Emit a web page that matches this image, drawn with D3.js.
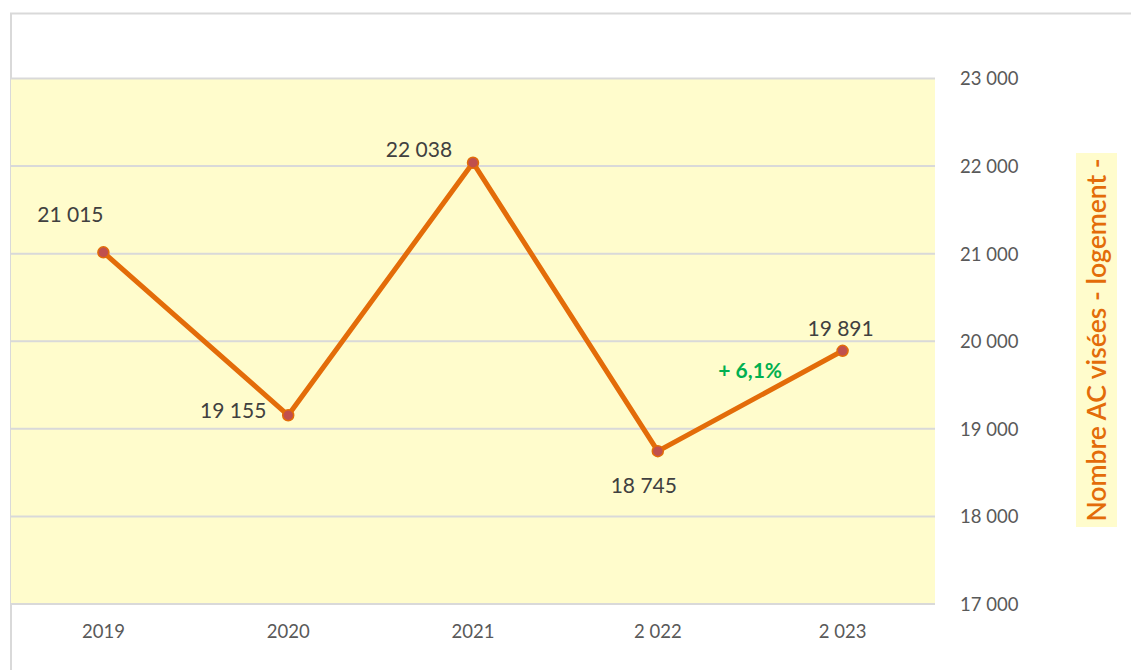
<!DOCTYPE html>
<html><head><meta charset="utf-8">
<script src="https://cdn.jsdelivr.net/npm/d3@7"></script>
<style>html,body{margin:0;padding:0;background:#fff;}svg{display:block;}</style>
</head><body>
<script>
const categories = ["2019", "2020", "2021", "2 022", "2 023"];
const values = [21015, 19155, 22038, 18745, 19891];
const valueLabels = ["21 015", "19 155", "22 038", "18 745", "19 891"];
const yTicks = [17000, 18000, 19000, 20000, 21000, 22000, 23000];
const yTickLabels = ["17 000", "18 000", "19 000", "20 000", "21 000", "22 000", "23 000"];
const axisTitle = "Nombre AC visées - logement -";
const growthLabel = "+ 6,1%";

const W = 1131, H = 670;
const font = "Lato, 'Open Sans', sans-serif";
const svg = d3.select("body").append("svg").attr("width", W).attr("height", H);

// outer frame
svg.append("rect").attr("x", 11).attr("y", 13.5).attr("width", W + 10).attr("height", H + 10)
  .attr("fill", "#fff").attr("stroke", "#d9d9d9").attr("stroke-width", 2);

const plot = {left: 11, right: 935, top: 78.5, bottom: 604};
const x = d3.scaleBand().domain(categories).range([plot.left, plot.right]);
const y = d3.scaleLinear().domain([17000, 23000]).range([plot.bottom, plot.top]);
const cx = d => x(d) + x.bandwidth() / 2;

svg.append("rect").attr("x", plot.left).attr("y", plot.top)
  .attr("width", plot.right - plot.left).attr("height", plot.bottom - plot.top).attr("fill", "#fffccc");

// gridlines
svg.append("g").selectAll("line").data(yTicks).join("line")
  .attr("x1", plot.left).attr("x2", plot.right)
  .attr("y1", d => y(d)).attr("y2", d => y(d))
  .attr("stroke", "#d9d9d9").attr("stroke-width", 2);

// right axis labels
const yAxis = d3.axisRight(y).tickValues(yTicks).tickSize(0).tickPadding(0)
  .tickFormat((d, i) => yTickLabels[i]);
const ga = svg.append("g").attr("transform", `translate(960,0)`).call(yAxis);
ga.select(".domain").remove();
ga.selectAll("text").attr("font-family", font).attr("font-size", 18.5).attr("fill", "#595959").attr("dy", "0.35em");

// x axis labels
const xAxis = d3.axisBottom(x).tickSize(0).tickPadding(0);
const gx = svg.append("g").attr("transform", `translate(0,${plot.bottom + 28})`).call(xAxis);
gx.select(".domain").remove();
gx.selectAll("text").attr("font-family", font).attr("font-size", 18.5).attr("fill", "#595959").attr("dy", "0.35em");

// line
const line = d3.line().x((d, i) => cx(categories[i])).y(d => y(d));
svg.append("path").datum(values).attr("d", line).attr("fill", "none")
  .attr("stroke", "#e36c09").attr("stroke-width", 5).attr("stroke-linejoin", "miter");

svg.append("g").selectAll("circle").data(values).join("circle")
  .attr("cx", (d, i) => cx(categories[i])).attr("cy", d => y(d)).attr("r", 5.5)
  .attr("fill", "#c0504d").attr("stroke", "#e36c09").attr("stroke-width", 1.5);

// value labels (offsets relative to points)
const offs = [[-33, -38], [-55, -5], [-54, -13], [-14, 34], [-2, -22]];
svg.append("g").selectAll("text").data(values).join("text")
  .attr("x", (d, i) => cx(categories[i]) + offs[i][0])
  .attr("y", (d, i) => y(d) + offs[i][1])
  .attr("text-anchor", "middle").attr("dy", "0.35em")
  .attr("font-family", font).attr("font-size", 21).attr("fill", "#404040")
  .text((d, i) => valueLabels[i]);

// growth label
svg.append("text")
  .attr("x", (cx(categories[3]) + cx(categories[4])) / 2)
  .attr("y", y((values[3] + values[4]) / 2) - 30)
  .attr("text-anchor", "middle").attr("dy", "0.35em")
  .attr("font-family", font).attr("font-size", 21).attr("font-weight", "bold").attr("fill", "#00b050")
  .text(growthLabel);

// axis title
const tcx = 1097, tcy = 340;
svg.append("rect").attr("x", tcx - 21).attr("y", 153).attr("width", 41).attr("height", 374).attr("fill", "#fffccc");
svg.append("text").attr("transform", `translate(${tcx},${tcy}) rotate(-90)`)
  .attr("text-anchor", "middle").attr("dy", "0.35em")
  .attr("font-family", font).attr("font-size", 26.5).attr("font-weight", 600).attr("fill", "#e36c09")
  .text(axisTitle);
</script>
</body></html>
